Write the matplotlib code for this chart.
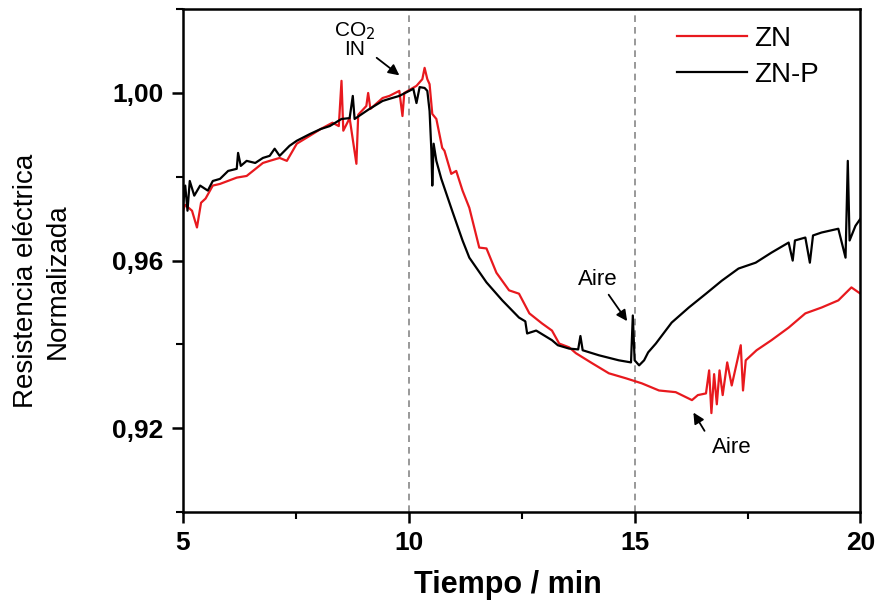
import matplotlib
matplotlib.use("Agg")
import matplotlib.pyplot as plt
from matplotlib.ticker import MultipleLocator

plt.rcParams['font.family'] = ['Liberation Sans', 'DejaVu Sans']

# ZN-P (black)
t_znp = [5.00, 5.05, 5.10, 5.15, 5.25, 5.38, 5.55, 5.66, 5.82, 6.00, 6.19, 6.22, 6.28,
         6.41, 6.60, 6.77, 6.92, 7.03, 7.14, 7.36, 7.52, 7.81, 8.05, 8.25, 8.51, 8.69,
         8.76, 8.80, 9.06, 9.13, 9.42, 9.57, 9.79, 10.01, 10.10, 10.17, 10.24, 10.35,
         10.41, 10.46, 10.50, 10.52, 10.55, 10.61, 10.72, 10.96, 11.19, 11.34, 11.72,
         12.07, 12.44, 12.58, 12.62, 12.82, 13.17, 13.30, 13.55, 13.75, 13.80, 13.85,
         14.21, 14.65, 14.92, 14.96, 15.00, 15.10, 15.21, 15.30, 15.47, 15.82, 16.20,
         16.58, 16.93, 17.30, 17.68, 18.03, 18.41, 18.50, 18.55, 18.78, 18.88, 18.95,
         19.14, 19.51, 19.67, 19.72, 19.76, 19.89, 20.00]
r_znp = [0.9731, 0.9779, 0.9719, 0.9790, 0.9755, 0.9779, 0.9767, 0.9790, 0.9795, 0.9814,
         0.9819, 0.9857, 0.9826, 0.9838, 0.9833, 0.9845, 0.9850, 0.9867, 0.9850, 0.9874,
         0.9886, 0.9902, 0.9914, 0.9921, 0.9938, 0.9940, 0.9993, 0.9938, 0.9957, 0.9962,
         0.9981, 0.9986, 0.9993, 1.0005, 1.0010, 0.9976, 1.0014, 1.0012, 1.0005, 0.9957,
         0.9862, 0.9779, 0.9879, 0.9838, 0.9795, 0.9719, 0.9648, 0.9607, 0.9548, 0.9505,
         0.9464, 0.9455, 0.9426, 0.9433, 0.9410, 0.9398, 0.9390, 0.9388, 0.9420, 0.9386,
         0.9374, 0.9362, 0.9357, 0.9469, 0.9362, 0.9350, 0.9362, 0.9381, 0.9402, 0.9452,
         0.9488, 0.9521, 0.9552, 0.9581, 0.9595, 0.9619, 0.9643, 0.9600, 0.9648, 0.9655,
         0.9595, 0.9660, 0.9667, 0.9676, 0.9607, 0.9838, 0.9648, 0.9683, 0.9700]

# ZN (red)
t_zn = [5.00, 5.05, 5.20, 5.31, 5.40, 5.50, 5.66, 5.82, 6.19, 6.41, 6.77, 6.92, 7.14,
        7.30, 7.52, 7.81, 8.05, 8.31, 8.45, 8.51, 8.55, 8.69, 8.84, 8.88, 9.06, 9.10,
        9.15, 9.42, 9.57, 9.79, 9.86, 9.90, 10.17, 10.30, 10.35, 10.41, 10.46, 10.52,
        10.61, 10.74, 10.79, 10.94, 11.05, 11.19, 11.34, 11.56, 11.72, 11.94, 12.22,
        12.44, 12.67, 12.95, 13.17, 13.33, 13.55, 13.70, 14.06, 14.43, 14.81, 15.16,
        15.54, 15.91, 16.27, 16.40, 16.58, 16.65, 16.70, 16.76, 16.82, 16.88, 16.95,
        17.05, 17.15, 17.25, 17.35, 17.40, 17.46, 17.70, 18.03, 18.41, 18.78, 19.14,
        19.51, 19.80, 20.00]
r_zn = [0.9719, 0.9733, 0.9719, 0.9679, 0.9738, 0.9748, 0.9779, 0.9783, 0.9798, 0.9802,
        0.9833, 0.9838, 0.9845, 0.9838, 0.9879, 0.9898, 0.9914, 0.9929, 0.9921, 1.0029,
        0.9910, 0.9940, 0.9831, 0.9948, 0.9969, 1.0000, 0.9962, 0.9988, 0.9993, 1.0005,
        0.9945, 1.0000, 1.0017, 1.0033, 1.0060, 1.0033, 1.0021, 0.9950, 0.9938, 0.9869,
        0.9862, 0.9807, 0.9814, 0.9767, 0.9726, 0.9631, 0.9629, 0.9571, 0.9529, 0.9521,
        0.9474, 0.9450, 0.9433, 0.9402, 0.9393, 0.9379, 0.9355, 0.9331, 0.9319, 0.9307,
        0.9290, 0.9286, 0.9267, 0.9279, 0.9283, 0.9338, 0.9236, 0.9329, 0.9257, 0.9338,
        0.9279, 0.9357, 0.9302, 0.9350, 0.9398, 0.9290, 0.9362, 0.9386, 0.9410, 0.9440,
        0.9474, 0.9488, 0.9505, 0.9536, 0.9521]

fig = plt.figure(figsize=(8.78, 6.12), dpi=100)
ax = fig.add_axes([0.2084, 0.1634, 0.7716, 0.8216])

ax.axvline(10, color='#888888', ls='--', lw=1.2, dashes=(4, 3))
ax.axvline(15, color='#888888', ls='--', lw=1.2, dashes=(4, 3))

ax.plot(t_zn, r_zn, color='#e8191e', lw=1.6, label='ZN')
ax.plot(t_znp, r_znp, color='black', lw=1.6, label='ZN-P')

ax.set_xlim(5, 20)
ax.set_ylim(0.90, 1.02)
ax.xaxis.set_major_locator(MultipleLocator(5))
ax.xaxis.set_minor_locator(MultipleLocator(2.5))
ax.yaxis.set_minor_locator(MultipleLocator(0.02))
ax.set_yticks([0.92, 0.96, 1.00])
ax.set_yticklabels(['0,92', '0,96', '1,00'])
ax.tick_params(which='major', direction='out', length=8, width=1.8, labelsize=19, pad=6)
ax.tick_params(which='minor', direction='out', length=5, width=1.5)
for lab in ax.get_xticklabels() + ax.get_yticklabels():
    lab.set_fontweight('bold')
for s in ax.spines.values():
    s.set_linewidth(1.8)

ax.set_xlabel('Tiempo / min', fontsize=22, fontweight='bold')
ax.xaxis.set_label_coords(0.479, -0.115)
ax.set_ylabel('Resistencia eléctrica\nNormalizada', fontsize=20, linespacing=1.3)
ax.yaxis.set_label_coords(-0.165, 0.46)

ax.annotate('', xy=(9.84, 1.0038), xytext=(9.24, 1.0088),
            arrowprops=dict(arrowstyle='-|>', color='black', lw=1.3, mutation_scale=16))
ax.text(8.80, 1.0128, 'CO$_2$\nIN', fontsize=15, ha='center', va='center', linespacing=0.85)

ax.annotate('', xy=(14.87, 0.9450), xytext=(14.39, 0.9524),
            arrowprops=dict(arrowstyle='-|>', color='black', lw=1.3, mutation_scale=16))
ax.text(14.19, 0.9555, 'Aire', fontsize=16, ha='center', va='center')

ax.annotate('', xy=(16.27, 0.9243), xytext=(16.58, 0.9188),
            arrowprops=dict(arrowstyle='-|>', color='black', lw=1.3, mutation_scale=16))
ax.text(17.15, 0.9155, 'Aire', fontsize=16, ha='center', va='center')

ax.legend(loc='upper left', frameon=False, fontsize=20, handlelength=2.5,
          bbox_to_anchor=(0.705, 1.0), borderaxespad=0.2, labelspacing=0.35,
          handletextpad=0.25)

fig.savefig('out.png', dpi=100)
